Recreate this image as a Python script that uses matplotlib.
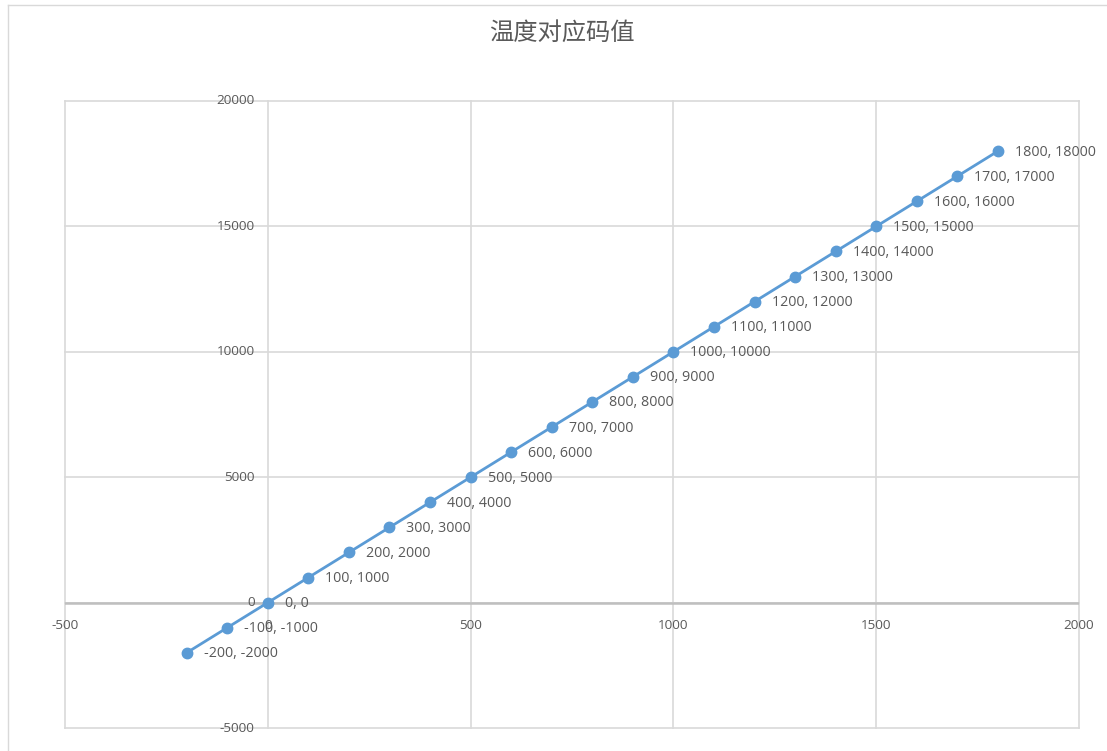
import matplotlib
matplotlib.use("Agg")
import matplotlib.pyplot as plt
from matplotlib.lines import Line2D
from matplotlib.transforms import offset_copy

temps = [-200, -100, 0, 100, 200, 300, 400, 500, 600, 700, 800, 900, 1000,
         1100, 1200, 1300, 1400, 1500, 1600, 1700, 1800]
codes = [-2000, -1000, 0, 1000, 2000, 3000, 4000, 5000, 6000, 7000, 8000, 9000,
         10000, 11000, 12000, 13000, 14000, 15000, 16000, 17000, 18000]
x_ticks = [-500, 0, 500, 1000, 1500, 2000]
y_ticks = [-5000, 0, 5000, 10000, 15000, 20000]
title = "温度对应码值"

W, H = 1107, 751
fig = plt.figure(figsize=(W / 100, H / 100), dpi=100)
fig.patch.set_facecolor("white")

# outer chart border
fig.add_artist(Line2D([8 / W, 1], [1 - 5 / H, 1 - 5 / H], color="#d9d9d9", lw=1, transform=fig.transFigure))
fig.add_artist(Line2D([8 / W, 8 / W], [0, 1 - 5 / H], color="#d9d9d9", lw=1, transform=fig.transFigure))

ax = fig.add_axes([65 / W, (H - 728) / H, (1079 - 65) / W, (728 - 101) / H])
ax.set_xlim(-500, 2000)
ax.set_ylim(-5000, 20000)
ax.set_xticks(x_ticks)
ax.set_yticks(y_ticks)
ax.tick_params(length=0, labelbottom=False, labelleft=False)
for s in ax.spines.values():
    s.set_visible(False)
ax.grid(True, color="#d9d9d9", lw=1.2)
for gl in ax.get_xgridlines() + ax.get_ygridlines():
    gl.set_clip_on(False)
ax.set_axisbelow(True)
ax.axhline(0, color="#bfbfbf", lw=1.8, zorder=1)

tc = "#595959"
fnt = "Open Sans"
ty = offset_copy(ax.transData, fig=fig, x=-13, y=0, units="dots")
for v in y_ticks:
    ax.text(0, v, str(v), transform=ty, ha="right", va="center", fontsize=9.7, color=tc, family=fnt)
tx = offset_copy(ax.transData, fig=fig, x=0, y=-23, units="dots")
for v in x_ticks:
    ax.text(v, 0, str(v), transform=tx, ha="center", va="center", fontsize=9.7, color=tc, family=fnt)

ax.plot(temps, codes, color="#5b9bd5", lw=2, marker="o", ms=7.5, zorder=3)

tl = offset_copy(ax.transData, fig=fig, x=17, y=-1, units="dots")
for xv, yv in zip(temps, codes):
    ax.text(xv, yv, f"{xv}, {yv}", transform=tl, ha="left", va="center",
            fontsize=10.3, color=tc, family=fnt, zorder=4)

fig.text(562 / W, 1 - 33 / H, title, ha="center", va="center", fontsize=17.5,
         color=tc, family=["Noto Sans CJK SC", "DejaVu Sans"])

fig.savefig("out.png", dpi=100)
